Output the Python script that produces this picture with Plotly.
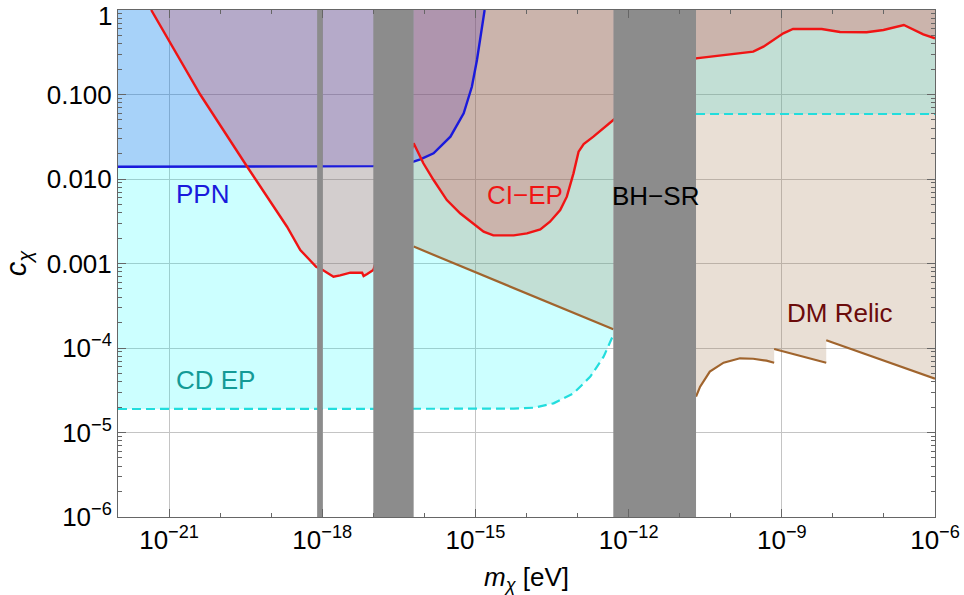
import numpy as np
import plotly.graph_objects as go

# ---------------- data (log10 values) ----------------
# CI-EP bound (red), log10 m [eV], log10 c
ci_ep_logm = [-21.35, -20.39, -19.47, -19.08, -18.69, -18.43, -18.12,
              -17.99, -17.78, -17.65, -17.45, -17.22, -17.19, -17.12, -17.0,
              -16.21, -16.02, -15.82, -15.56, -15.30, -15.04, -14.84, -14.65, -14.25,
              -13.99, -13.73, -13.54, -13.34, -13.21, -13.08, -12.98, -12.88, -12.69,
              -12.49, -12.30,
              -10.68, -10.27, -9.88, -9.56, -9.36, -9.17, -8.97, -8.78, -8.22, -7.86,
              -7.34, -7.01, -6.61, -6.23, -6.0]
ci_ep_logc = [0.0, -1.0, -1.855, -2.21, -2.565, -2.84, -3.04,
              -3.077, -3.156, -3.140, -3.109, -3.109, -3.148, -3.124, -3.077,
              -1.578, -1.814, -2.012, -2.249, -2.406, -2.524, -2.624, -2.667, -2.667,
              -2.643, -2.596, -2.505, -2.367, -2.209, -1.933, -1.677, -1.586, -1.499,
              -1.40, -1.302,
              -0.572, -0.544, -0.521, -0.493, -0.434, -0.355, -0.276, -0.225, -0.225, -0.260,
              -0.264, -0.237, -0.178, -0.288, -0.335]

# PPN bound (blue)
ppn_logm = [-22.0, -18.0, -17.0, -16.21, -16.08, -15.82, -15.49, -15.23, -15.07, -14.97, -14.87, -14.82]
ppn_logc = [-1.855, -1.855, -1.848, -1.795, -1.767, -1.696, -1.499, -1.222, -0.908, -0.592, -0.197, 0.0]

# CD EP bound (cyan dashed), left and right of BH-SR band
cdep_left_logm = [-22.0, -14.6, -14.25, -13.86, -13.47, -13.08, -12.75, -12.49, -12.30]
cdep_left_logc = [-4.722, -4.722, -4.718, -4.707, -4.655, -4.536, -4.339, -4.103, -3.846]
cdep_right_logm = [-10.68, -6.0]
cdep_right_logc = [-1.231, -1.231]

# DM relic bound (brown), segments
dm_left_logm = [-16.21, -12.30]
dm_left_logc = [-2.80, -3.779]
dm_seg1_logm = [-10.68, -10.60, -10.41, -10.14, -9.82, -9.56, -9.30, -9.15]
dm_seg1_logc = [-4.576, -4.458, -4.28, -4.174, -4.122, -4.127, -4.150, -4.174]
dm_seg2_logm = [-9.15, -8.13]
dm_seg2_logc = [-4.012, -4.174]
dm_seg3_logm = [-8.13, -6.0]
dm_seg3_logc = [-3.909, -4.363]

# Excluded mass bands (gray), log10 m edges
band_lo = [-18.10, -17.0, -12.30]
band_hi = [-17.99, -16.21, -10.68]

x_tick_exp = [-21, -18, -15, -12, -9, -6]
y_tick_exp = [-6, -5, -4, -3, -2, -1]
y_tick_text = ["10<sup>\u22126</sup>", "10<sup>\u22125</sup>", "10<sup>\u22124</sup>",
               "0.001", "0.010", "0.100"]
y_top_label = "1"

# ---------------- helpers ----------------
P = lambda a: list(np.power(10.0, np.array(a, dtype=float)))
TOP = 0.0
FONT = "Liberation Sans, Arial, sans-serif"
FS = 26

def join(*parts):
    xs, ys = [], []
    for i, (px, py) in enumerate(parts):
        if i:
            xs.append(None); ys.append(None)
        xs += P(px); ys += P(py)
    return xs, ys

fig = go.Figure()

def add_fill(xs, ys, color):
    fig.add_trace(go.Scatter(x=xs, y=ys, mode="lines", fill="toself", fillcolor=color,
                             line=dict(width=0), hoverinfo="skip", showlegend=False))

# CD EP region (cyan)
cx, cy = join((cdep_left_logm + [cdep_left_logm[-1], cdep_left_logm[0]],
               cdep_left_logc + [TOP, TOP]),
              (cdep_right_logm + [cdep_right_logm[-1], cdep_right_logm[0]],
               cdep_right_logc + [TOP, TOP]))
add_fill(cx, cy, "rgba(0,255,255,0.2)")

# DM relic region
dm_r_m = dm_seg1_logm + dm_seg2_logm + dm_seg3_logm
dm_r_c = dm_seg1_logc + dm_seg2_logc + dm_seg3_logc
dx, dy = join((dm_left_logm + [dm_left_logm[-1], dm_left_logm[0]], dm_left_logc + [TOP, TOP]),
              (dm_r_m + [dm_r_m[-1], dm_r_m[0]], dm_r_c + [TOP, TOP]))
add_fill(dx, dy, "rgba(162,119,77,0.235)")

# PPN region
add_fill(P(ppn_logm + [ppn_logm[0]]), P(ppn_logc + [TOP]), "rgba(20,30,225,0.2)")

# CI-EP region
add_fill(P(ci_ep_logm + [ci_ep_logm[-1]]), P(ci_ep_logc + [TOP]), "rgba(240,12,12,0.2)")

# lines
lx, ly = join((cdep_left_logm, cdep_left_logc), (cdep_right_logm, cdep_right_logc))
fig.add_trace(go.Scatter(x=lx, y=ly, mode="lines", line=dict(color="#22dddd", width=2.2, dash="9px,5px"),
                         hoverinfo="skip", showlegend=False))
bx, by = join((dm_left_logm, dm_left_logc), (dm_seg1_logm, dm_seg1_logc),
              (dm_seg2_logm, dm_seg2_logc), (dm_seg3_logm, dm_seg3_logc))
fig.add_trace(go.Scatter(x=bx, y=by, mode="lines", line=dict(color="#a0642d", width=2.2),
                         hoverinfo="skip", showlegend=False))
fig.add_trace(go.Scatter(x=P(ppn_logm), y=P(ppn_logc), mode="lines", line=dict(color="#1a1adc", width=2.4),
                         hoverinfo="skip", showlegend=False))
fig.add_trace(go.Scatter(x=P(ci_ep_logm), y=P(ci_ep_logc), mode="lines", line=dict(color="#f01414", width=2.4),
                         hoverinfo="skip", showlegend=False))

# gray bands
gx, gy = [], []
for lo, hi in zip(band_lo, band_hi):
    if gx:
        gx.append(None); gy.append(None)
    gx += P([lo, hi, hi, lo]); gy += P([-6, -6, TOP, TOP])
fig.add_trace(go.Scatter(x=gx, y=gy, mode="lines", fill="toself", fillcolor="#8c8c8c",
                         line=dict(width=0), hoverinfo="skip", showlegend=False))

# labels
labels = [("PPN", -20.337, -2.178, "#1a1adc"),
          ("CI\u2212EP", -14.025, -2.189, "#f01414"),
          ("BH\u2212SR", -11.472, -2.201, "black"),
          ("DM Relic", -7.88, -3.586, "#6b0b0b"),
          ("CD EP", -20.10, -4.379, "#139a96")]
for t, lxv, lyv, col in labels:
    fig.add_annotation(x=lxv, y=lyv, xref="x", yref="y", text=t, showarrow=False,
                       xanchor="center", yanchor="middle", font=dict(family=FONT, size=FS, color=col))

# top y tick label "1", nudged down to stay inside the page like the original
fig.add_annotation(x=0, xref="paper", xanchor="right", xshift=-4, y=0, yref="y",
                   yanchor="middle", yshift=-6, text=y_top_label, showarrow=False,
                   font=dict(family=FONT, size=FS, color="black"))

axis_common = dict(type="log", ticks="inside", tickcolor="#666666", ticklen=8, tickwidth=1,
                   showline=True, linecolor="#666666", linewidth=1, mirror="allticks",
                   showgrid=True, gridcolor="#c4c4c4", gridwidth=1, zeroline=False,
                   automargin=False, ticklabeloverflow="allow",
                   tickfont=dict(family=FONT, size=FS, color="black"))

fig.update_layout(
    template="none",
    width=964, height=595,
    margin=dict(l=117.5, r=29, t=10, b=78),
    paper_bgcolor="white", plot_bgcolor="white",
    xaxis=dict(range=[-22, -6], tickvals=P(x_tick_exp),
               ticktext=["10<sup>\u2212%d</sup>" % (-e) for e in x_tick_exp],
               minor=dict(tickvals=P([e for e in range(-22, -5) if e not in x_tick_exp]),
                          ticks="inside", ticklen=4, tickcolor="#666666", showgrid=False),
               title=dict(text="<i>m</i><sub><i>\u03c7</i></sub> [eV]",
                          font=dict(family=FONT, size=FS, color="black"), standoff=14),
               **axis_common),
    yaxis=dict(range=[-6, 0], tickvals=P(y_tick_exp + [0]), ticktext=y_tick_text + [""],
               minor=dict(tickvals=[k * 10.0 ** n for n in range(-6, 0) for k in range(2, 10)],
                          ticks="inside", ticklen=4, tickcolor="#666666", showgrid=False),
               title=dict(text="<i>c</i><sub><i>\u03c7</i></sub>",
                          font=dict(family=FONT, size=29, color="black"), standoff=26),
               **axis_common),
)

# remove the browser's default 8px body margin so the figure fills the window exactly
fig.write_html("out.html", config={"displayModeBar": False},
               post_script="document.body.style.margin='0px';document.body.style.overflow='hidden';")
